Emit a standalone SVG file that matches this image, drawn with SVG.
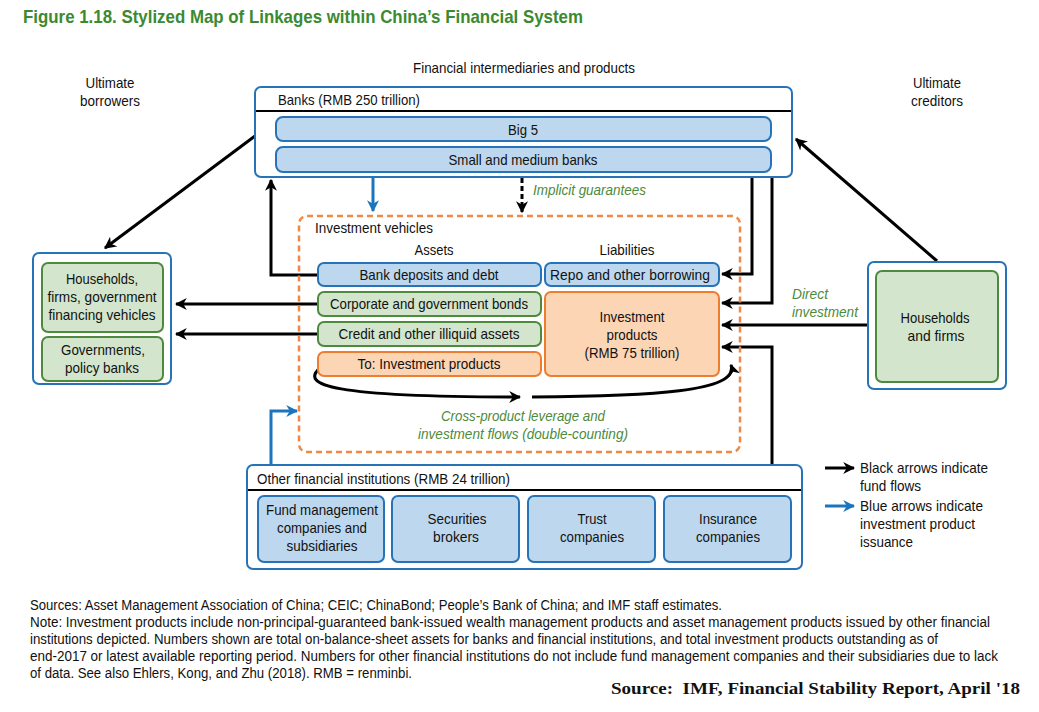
<svg xmlns="http://www.w3.org/2000/svg" width="1039" height="712" viewBox="0 0 1039 712">
<defs>
<style>
text{font-family:"Liberation Sans",Arial,sans-serif;font-size:15px;fill:#111}
.c{text-anchor:middle}
.title{font-size:19px;font-weight:bold;fill:#3b8a30}
.it{font-style:italic;fill:#4d8a3a}
.note{font-size:14px}
.src{font-family:"Liberation Serif","Times New Roman",serif;font-weight:bold;font-size:17px}
.outer{fill:#fff;stroke:#2673b8;stroke-width:2}
.blue{fill:#bdd7ee;stroke:#2673b8;stroke-width:2}
.green{fill:#d3e5cc;stroke:#4e8a3e;stroke-width:2}
.orange{fill:#fcd5b5;stroke:#ed7d31;stroke-width:2}
.k{fill:none;stroke:#000;stroke-width:3}
.b{fill:none;stroke:#1b75bc;stroke-width:3}
</style>
<marker id="ak" viewBox="0 0 10 10" refX="9" refY="5" markerWidth="4" markerHeight="4" orient="auto" markerUnits="strokeWidth"><path d="M0,0 L10,5 L0,10 L3,5 Z" fill="#000"/></marker>
<marker id="ab" viewBox="0 0 10 10" refX="9" refY="5" markerWidth="4" markerHeight="4" orient="auto" markerUnits="strokeWidth"><path d="M0,0 L10,5 L0,10 L3,5 Z" fill="#1b75bc"/></marker>
</defs>
<rect width="1039" height="712" fill="#fff"/>
<text x="23" y="23" class="title" textLength="560" lengthAdjust="spacingAndGlyphs">Figure 1.18. Stylized Map of Linkages within China’s Financial System</text>
<text x="524" y="73" class="c" textLength="222" lengthAdjust="spacingAndGlyphs">Financial intermediaries and products</text>
<text x="110" y="88" class="c" textLength="49" lengthAdjust="spacingAndGlyphs">Ultimate</text>
<text x="110" y="106" class="c" textLength="60" lengthAdjust="spacingAndGlyphs">borrowers</text>
<text x="937" y="88" class="c" textLength="48" lengthAdjust="spacingAndGlyphs">Ultimate</text>
<text x="937" y="106" class="c" textLength="52" lengthAdjust="spacingAndGlyphs">creditors</text>

<g id="connectors">
<line x1="255" y1="136" x2="105" y2="248" class="k" marker-end="url(#ak)"/>
<polyline points="317,275 271,275 271,180" class="k" marker-end="url(#ak)"/>
<line x1="317" y1="304" x2="176" y2="304" class="k" marker-end="url(#ak)"/>
<line x1="317" y1="334" x2="176" y2="334" class="k" marker-end="url(#ak)"/>
<line x1="373" y1="177" x2="373" y2="211" class="b" marker-end="url(#ab)"/>
<line x1="522" y1="178" x2="522" y2="212" class="k" stroke-dasharray="5,3" marker-end="url(#ak)"/>
<polyline points="752,177 752,274 722,274" class="k" marker-end="url(#ak)"/>
<polyline points="772,177 772,303 722,303" class="k" marker-end="url(#ak)"/>
<line x1="868" y1="325" x2="722" y2="325" class="k" marker-end="url(#ak)"/>
<polyline points="772,465 772,347 722,347" class="k" marker-end="url(#ak)"/>
<line x1="937" y1="261" x2="796" y2="139" class="k" marker-end="url(#ak)"/>
<polyline points="271,466 271,411 297,411" class="b" marker-end="url(#ab)"/>
<path d="M320,368 C300,385 330,397 520,397" class="k" marker-end="url(#ak)"/>
<path d="M532,397 C650,396 740,392 731,365" class="k" marker-end="url(#ak)"/>
<line x1="825" y1="468" x2="854" y2="468" class="k" marker-end="url(#ak)"/>
<line x1="825" y1="506" x2="854" y2="506" class="b" marker-end="url(#ab)"/>
</g>

<g id="banks">
<rect x="255" y="87" width="537" height="90" rx="6" class="outer"/>
<line x1="256" y1="111" x2="791" y2="111" stroke="#000" stroke-width="2"/>
<text x="278" y="105" textLength="142" lengthAdjust="spacingAndGlyphs">Banks (RMB 250 trillion)</text>
</g>
<g id="big5">
<rect x="276" y="117" width="495" height="24" rx="7" class="blue"/>
<text x="523" y="135" class="c" textLength="30" lengthAdjust="spacingAndGlyphs">Big 5</text>
</g>
<g id="smb">
<rect x="276" y="147" width="495" height="25" rx="7" class="blue"/>
<text x="523" y="165" class="c" textLength="149" lengthAdjust="spacingAndGlyphs">Small and medium banks</text>
</g>
<text x="533" y="195" class="it" textLength="113" lengthAdjust="spacingAndGlyphs">Implicit guarantees</text>

<g id="investment-vehicles">
<rect x="299" y="216" width="441" height="236" rx="8" fill="none" stroke="#ef8a46" stroke-width="2.5" stroke-dasharray="6,4"/>
<text x="315" y="233" textLength="118" lengthAdjust="spacingAndGlyphs">Investment vehicles</text>
<text x="434" y="255" class="c" textLength="39" lengthAdjust="spacingAndGlyphs">Assets</text>
<text x="627" y="255" class="c" textLength="55" lengthAdjust="spacingAndGlyphs">Liabilities</text>
</g>
<g id="bank-deposits">
<rect x="318" y="263" width="223" height="23" rx="6" class="blue"/>
<text x="429" y="280" class="c" textLength="139" lengthAdjust="spacingAndGlyphs">Bank deposits and debt</text>
</g>
<g id="repo">
<rect x="545" y="263" width="174" height="23" rx="6" class="blue"/>
<text x="630" y="280" class="c" textLength="160" lengthAdjust="spacingAndGlyphs">Repo and other borrowing</text>
</g>
<g id="bonds">
<rect x="318" y="292" width="223" height="24" rx="6" class="green"/>
<text x="429" y="309" class="c" textLength="198" lengthAdjust="spacingAndGlyphs">Corporate and government bonds</text>
</g>
<g id="credit">
<rect x="318" y="322" width="223" height="24" rx="6" class="green"/>
<text x="429" y="339" class="c" textLength="181" lengthAdjust="spacingAndGlyphs">Credit and other illiquid assets</text>
</g>
<g id="to-ip">
<rect x="318" y="352" width="223" height="24" rx="6" class="orange"/>
<text x="429" y="369" class="c" textLength="143" lengthAdjust="spacingAndGlyphs">To: Investment products</text>
</g>
<g id="ip">
<rect x="545" y="292" width="174" height="84" rx="6" class="orange"/>
<text x="632" y="322" class="c" textLength="65" lengthAdjust="spacingAndGlyphs">Investment</text>
<text x="632" y="340" class="c" textLength="51" lengthAdjust="spacingAndGlyphs">products</text>
<text x="632" y="358" class="c" textLength="95" lengthAdjust="spacingAndGlyphs">(RMB 75 trillion)</text>
</g>
<text x="523" y="421" class="c it" textLength="164" lengthAdjust="spacingAndGlyphs">Cross-product leverage and</text>
<text x="523" y="439" class="c it" textLength="210" lengthAdjust="spacingAndGlyphs">investment flows (double-counting)</text>

<g id="borrowers">
<rect x="33" y="253" width="138" height="131" rx="6" class="outer"/>
<rect x="42" y="263" width="121" height="69" rx="6" class="green"/>
<text x="102" y="284" class="c" textLength="72" lengthAdjust="spacingAndGlyphs">Households,</text>
<text x="102" y="302" class="c" textLength="109" lengthAdjust="spacingAndGlyphs">firms, government</text>
<text x="102" y="320" class="c" textLength="107" lengthAdjust="spacingAndGlyphs">financing vehicles</text>
<rect x="42" y="337" width="121" height="44" rx="6" class="green"/>
<text x="103" y="355" class="c" textLength="84" lengthAdjust="spacingAndGlyphs">Governments,</text>
<text x="102" y="373" class="c" textLength="74" lengthAdjust="spacingAndGlyphs">policy banks</text>
</g>

<g id="creditors">
<rect x="868" y="262" width="138" height="127" rx="6" class="outer"/>
<rect x="876" y="271" width="122" height="111" rx="6" class="green"/>
<text x="935" y="323" class="c" textLength="69" lengthAdjust="spacingAndGlyphs">Households</text>
<text x="936" y="341" class="c" textLength="57" lengthAdjust="spacingAndGlyphs">and firms</text>
</g>
<text x="792" y="299" class="it" textLength="36" lengthAdjust="spacingAndGlyphs">Direct</text>
<text x="792" y="317" class="it" textLength="66" lengthAdjust="spacingAndGlyphs">investment</text>

<g id="ofi">
<rect x="247" y="465" width="555" height="104" rx="6" class="outer"/>
<line x1="248" y1="490" x2="801" y2="490" stroke="#000" stroke-width="2"/>
<text x="257" y="484" textLength="253" lengthAdjust="spacingAndGlyphs">Other financial institutions (RMB 24 trillion)</text>
</g>
<g id="fund-mgmt">
<rect x="258" y="496" width="126" height="66" rx="6" class="blue"/>
<text x="322" y="515" class="c" textLength="112" lengthAdjust="spacingAndGlyphs">Fund management</text>
<text x="322" y="533" class="c" textLength="90" lengthAdjust="spacingAndGlyphs">companies and</text>
<text x="322" y="551" class="c" textLength="71" lengthAdjust="spacingAndGlyphs">subsidiaries</text>
</g>
<g id="securities">
<rect x="392" y="496" width="127" height="66" rx="6" class="blue"/>
<text x="457" y="524" class="c" textLength="59" lengthAdjust="spacingAndGlyphs">Securities</text>
<text x="456" y="542" class="c" textLength="46" lengthAdjust="spacingAndGlyphs">brokers</text>
</g>
<g id="trust">
<rect x="528" y="496" width="127" height="66" rx="6" class="blue"/>
<text x="592" y="524" class="c" textLength="29" lengthAdjust="spacingAndGlyphs">Trust</text>
<text x="592" y="542" class="c" textLength="64" lengthAdjust="spacingAndGlyphs">companies</text>
</g>
<g id="insurance">
<rect x="664" y="496" width="127" height="66" rx="6" class="blue"/>
<text x="728" y="524" class="c" textLength="58" lengthAdjust="spacingAndGlyphs">Insurance</text>
<text x="728" y="542" class="c" textLength="64" lengthAdjust="spacingAndGlyphs">companies</text>
</g>

<g id="legend">
<text x="860" y="473" textLength="128" lengthAdjust="spacingAndGlyphs">Black arrows indicate</text>
<text x="860" y="491" textLength="61" lengthAdjust="spacingAndGlyphs">fund flows</text>
<text x="860" y="511" textLength="123" lengthAdjust="spacingAndGlyphs">Blue arrows indicate</text>
<text x="860" y="529" textLength="115" lengthAdjust="spacingAndGlyphs">investment product</text>
<text x="860" y="547" textLength="53" lengthAdjust="spacingAndGlyphs">issuance</text>
</g>

<g id="notes">
<text x="30" y="610" class="note" textLength="692" lengthAdjust="spacingAndGlyphs">Sources: Asset Management Association of China; CEIC; ChinaBond; People’s Bank of China; and IMF staff estimates.</text>
<text x="30" y="627" class="note" textLength="960" lengthAdjust="spacingAndGlyphs">Note: Investment products include non-principal-guaranteed bank-issued wealth management products and asset management products issued by other financial</text>
<text x="30" y="644" class="note" textLength="908" lengthAdjust="spacingAndGlyphs">institutions depicted. Numbers shown are total on-balance-sheet assets for banks and financial institutions, and total investment products outstanding as of</text>
<text x="30" y="661" class="note" textLength="968" lengthAdjust="spacingAndGlyphs">end-2017 or latest available reporting period. Numbers for other financial institutions do not include fund management companies and their subsidiaries due to lack</text>
<text x="30" y="678" class="note" textLength="382" lengthAdjust="spacingAndGlyphs">of data. See also Ehlers, Kong, and Zhu (2018). RMB = renminbi.</text>
<text x="611" y="694" class="src" xml:space="preserve" textLength="409" lengthAdjust="spacingAndGlyphs">Source:  IMF, Financial Stability Report, April '18</text>
</g>
</svg>
